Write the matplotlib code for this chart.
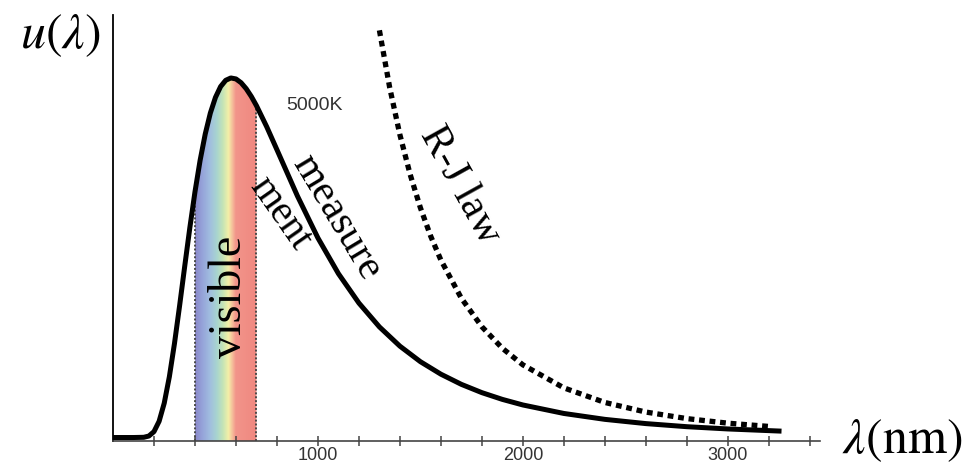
import numpy as np
import matplotlib
matplotlib.use('Agg')
import matplotlib.pyplot as plt
from matplotlib.colors import LinearSegmentedColormap
from matplotlib.patches import Polygon

plt.rcParams['mathtext.fontset'] = 'stix'

# measured curve (5000K), wavelength in nm, u normalised to the peak
lam = [0, 50, 100, 150, 175, 200, 225, 250, 275, 300, 325, 350, 375, 400, 425, 450, 475, 500,
       525, 550, 575, 600, 625, 650, 675, 700, 750, 800, 900, 1000, 1100, 1200, 1300, 1400,
       1500, 1600, 1700, 1800, 1900, 2000, 2200, 2400, 2600, 2800, 3000, 3250]
u = [0, 0, 0, 0.0006, 0.0041, 0.0164, 0.0451, 0.0955, 0.1689, 0.2615, 0.3665, 0.4764, 0.5837,
     0.6831, 0.7706, 0.8438, 0.9023, 0.9459, 0.9759, 0.9934, 0.9999, 0.9972, 0.9867, 0.9700,
     0.9484, 0.9229, 0.8643, 0.8003, 0.6716, 0.5549, 0.4557, 0.3739, 0.3076, 0.2541, 0.2109,
     0.1761, 0.1478, 0.1248, 0.1060, 0.0905, 0.0669, 0.0505, 0.0387, 0.0301, 0.0238, 0.0180]

# Rayleigh-Jeans curve
lam_rj = [1300, 1350, 1400, 1450, 1500, 1550, 1600, 1700, 1800, 1900, 2000, 2200, 2400, 2600,
          2800, 3000, 3200]
u_rj = [1.1324, 0.9737, 0.8419, 0.7316, 0.6389, 0.5603, 0.4935, 0.3872, 0.3081, 0.2482, 0.2021,
        0.1381, 0.0975, 0.0708, 0.0526, 0.0399, 0.0308]

vis_lo, vis_hi = 400, 700
tick_pos = list(range(200, 3401, 200))
tick_lab = ['1000' if t == 1000 else '2000' if t == 2000 else '3000' if t == 3000 else '' for t in tick_pos]

lam = np.array(lam)
u = np.array(u)
ybot = -0.0097

fig = plt.figure(figsize=(9.72, 4.68), dpi=100)
ax = fig.add_axes([113/972, 27/468, (820-113)/972, (453-27)/468])
ax.set_xlim(0, 3450)
ax.set_ylim(ybot, 1.175)

# visible band as a spectrum gradient clipped under the curve
stops = [(400, '#8a88c8'), (430, '#94a0d8'), (470, '#a0bce0'), (505, '#a8d4d0'),
         (535, '#c4e4b6'), (562, '#f4f0a8'), (582, '#f5bc9a'), (598, '#f2948a'), (700, '#f08880')]
cmap = LinearSegmentedColormap.from_list('vis', [((s - 400) / 300, c) for s, c in stops])
m = (lam >= vis_lo) & (lam <= vis_hi)
verts = [(vis_lo, ybot)] + list(zip(lam[m], u[m])) + [(vis_hi, ybot)]
poly = Polygon(verts, closed=True, facecolor='none', edgecolor='none')
ax.add_patch(poly)
grad = np.linspace(0, 1, 300).reshape(1, -1)
im = ax.imshow(grad, cmap=cmap, extent=(vis_lo, vis_hi, ybot, 1.0), aspect='auto', zorder=1)
im.set_clip_path(poly)

ax.vlines([vis_lo, vis_hi], ybot, [u[lam == vis_lo][0], u[lam == vis_hi][0]],
          colors='#4a4a4a', linestyles=(0, (1, 1)), lw=1.4, zorder=2)

ax.plot(lam, u, color='black', lw=3.6, zorder=3, solid_joinstyle='round')
ax.plot(lam_rj, u_rj, color='black', lw=3.8, linestyle=(0, (1.1, 0.9)), zorder=3)

for s in ['top', 'right']:
    ax.spines[s].set_visible(False)
ax.spines['left'].set_color('black')
ax.spines['left'].set_linewidth(1.3)
ax.spines['bottom'].set_color('#444444')
ax.spines['bottom'].set_linewidth(1.2)
ax.set_yticks([])
ax.set_xticks(tick_pos)
ax.set_xticklabels(tick_lab, fontsize=13, family='Liberation Sans', color='#333333')
ax.tick_params(axis='x', direction='inout', length=7, width=1.1, color='#444444', pad=1)

serif = 'Liberation Serif'
ax.text(571, 0.39, 'visible', rotation=90, fontsize=33, family=serif, ha='center', va='center')
ax.text(1093, 0.613, 'measure', rotation=-59, fontsize=30, family=serif, ha='center', va='center',
        rotation_mode='anchor')
ax.text(815, 0.624, 'ment', rotation=-55, fontsize=29, family=serif, ha='center', va='center',
        rotation_mode='anchor')
ax.text(1693, 0.702, 'R-J law', rotation=-61, fontsize=30, family=serif, ha='center', va='center',
        rotation_mode='anchor')
ax.text(985, 0.922, '5000K', fontsize=14, family='Liberation Sans', color='#333333',
        ha='center', va='center')

fig.text(60/972, 1 - 35/468, r'$u(\lambda)$', fontsize=36, ha='center', va='center')
fig.text(902/972, 1 - 440/468, r'$\lambda(\mathrm{nm})$', fontsize=36, ha='center', va='center')

fig.savefig('out.png', dpi=100)
